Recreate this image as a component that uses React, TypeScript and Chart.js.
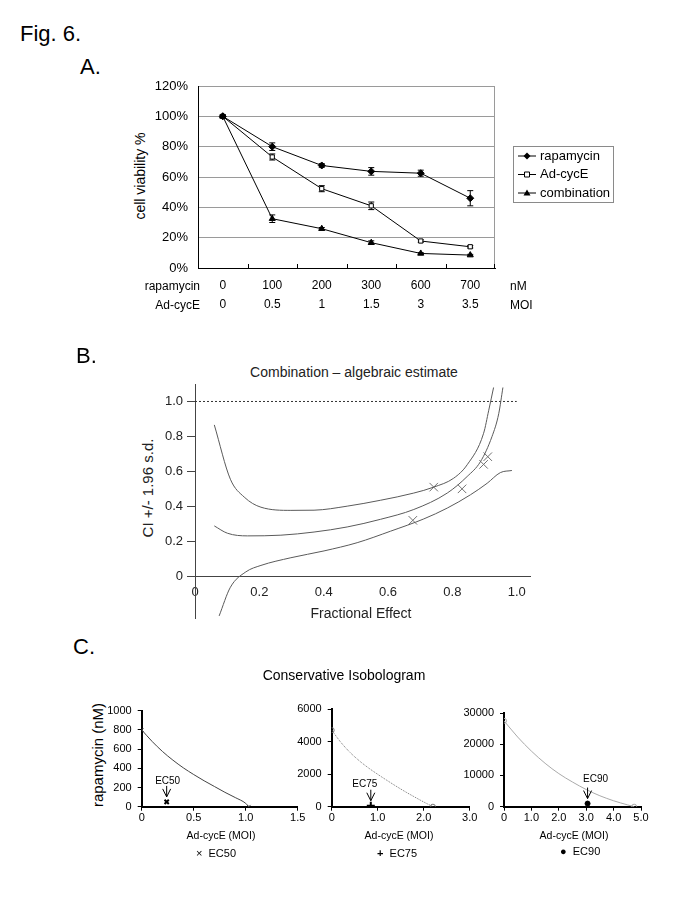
import React, { useEffect, useRef } from "react";
import { Chart, registerables } from "chart.js";
Chart.register(...registerables);

const FONT = "'Liberation Sans', Arial, Helvetica, sans-serif";

// ---------- Panel A : cell viability ----------
const rapamycinDose = ["0", "100", "200", "300", "600", "700"];
const adCycEDose = ["0", "0.5", "1", "1.5", "3", "3.5"];
const rapamycinViability = [100, 80, 67.6, 63.7, 62.5, 46];
const rapamycinError = [1, 2.5, 1.2, 2.5, 2, 5];
const adCycEViability = [100, 73.2, 52.3, 41, 17.8, 14];
const adCycEError = [0.8, 2, 2, 2.5, 0.8, 0.8];
const combinationViability = [100, 32.5, 25.9, 16.7, 9.6, 8.5];
const combinationError = [0.8, 2.5, 0.8, 1.2, 0.5, 0.5];
const legendNamesA = ["rapamycin", "Ad-cycE", "combination"];

// ---------- Panel B : CI vs fractional effect ----------
const upperFa = [0.06, 0.11, 0.153, 0.205, 0.298, 0.37, 0.473, 0.577, 0.68, 0.742, 0.804, 0.846, 0.897, 0.913, 0.928];
const upperCi = [0.866, 0.555, 0.453, 0.395, 0.377, 0.378, 0.401, 0.435, 0.476, 0.51, 0.561, 0.638, 0.818, 0.95, 1.08];
const middleFa = [0.06, 0.101, 0.163, 0.267, 0.37, 0.473, 0.577, 0.68, 0.784, 0.846, 0.887, 0.923, 0.944, 0.957];
const middleCi = [0.288, 0.246, 0.231, 0.235, 0.253, 0.282, 0.326, 0.382, 0.476, 0.571, 0.655, 0.799, 0.93, 1.08];
const lowerFa = [0.075, 0.11, 0.158, 0.205, 0.298, 0.401, 0.504, 0.608, 0.711, 0.784, 0.856, 0.908, 0.949, 0.985];
const lowerCi = [-0.227, -0.063, 0.025, 0.062, 0.106, 0.145, 0.192, 0.258, 0.328, 0.39, 0.466, 0.532, 0.593, 0.605];
const pointFa = [0.677, 0.742, 0.83, 0.897, 0.91];
const pointCi = [0.32, 0.51, 0.5, 0.64, 0.684];
const ciTicks = [0, 0.2, 0.4, 0.6, 0.8, 1.0];
const faTicks = [0, 0.2, 0.4, 0.6, 0.8, 1.0];

// ---------- Panel C : isobolograms ----------
const iso50Moi = [0, 0.1, 0.2, 0.3, 0.4, 0.5, 0.6, 0.7, 0.8, 0.9, 1.0, 1.03];
const iso50Rapa = [800, 680, 575, 485, 405, 335, 270, 210, 150, 95, 35, 0];
const iso75Moi = [0, 0.2, 0.4, 0.6, 0.8, 1.0, 1.2, 1.4, 1.6, 1.8, 2.0, 2.2];
const iso75Rapa = [4700, 3950, 3330, 2820, 2380, 1990, 1620, 1260, 920, 600, 290, 0];
const iso90Moi = [0, 0.5, 1, 1.5, 2, 2.5, 3, 3.5, 4, 4.5, 4.75];
const iso90Rapa = [27500, 22300, 17800, 13900, 10600, 7900, 5500, 3500, 1900, 600, 0];
const ec50 = { moi: 0.24, rapa: 50 };
const ec75 = { moi: 0.85, rapa: 60 };
const ec90 = { moi: 3.05, rapa: 1000 };

const zip = (xs: number[], ys: number[]) => xs.map((x, i) => ({ x, y: ys[i] }));

// ---------------- plugins ----------------
const errorBarPlugin = {
  id: "errorBars",
  beforeDatasetsDraw(chart: any) {
    const { ctx } = chart;
    const ys = chart.scales.y;
    chart.data.datasets.forEach((ds: any, di: number) => {
      if (!ds.errors) return;
      const meta = chart.getDatasetMeta(di);
      meta.data.forEach((pt: any, i: number) => {
        const v = ds.data[i];
        const e = ds.errors[i];
        const t = ys.getPixelForValue(v + e);
        const b = ys.getPixelForValue(v - e);
        ctx.save();
        ctx.strokeStyle = "#000";
        ctx.lineWidth = 1;
        ctx.beginPath();
        ctx.moveTo(pt.x, t);
        ctx.lineTo(pt.x, b);
        ctx.moveTo(pt.x - 3, t);
        ctx.lineTo(pt.x + 3, t);
        ctx.moveTo(pt.x - 3, b);
        ctx.lineTo(pt.x + 3, b);
        ctx.stroke();
        ctx.restore();
      });
    });
  },
};

const frameAPlugin = {
  id: "frameA",
  beforeDatasetsDraw(chart: any) {
    const { ctx, chartArea: a } = chart;
    const xs = chart.scales.x;
    ctx.save();
    ctx.strokeStyle = "#9a9a9a";
    ctx.lineWidth = 1;
    ctx.beginPath();
    ctx.moveTo(a.right - 0.5, a.top);
    ctx.lineTo(a.right - 0.5, a.bottom);
    ctx.stroke();
    ctx.strokeStyle = "#000";
    ctx.beginPath();
    const n = chart.data.labels.length;
    for (let i = 0; i < n; i++) {
      const x =
        i < n - 1
          ? Math.round((xs.getPixelForValue(i) + xs.getPixelForValue(i + 1)) / 2) + 0.5
          : a.right - 0.5;
      ctx.moveTo(x, a.bottom);
      ctx.lineTo(x, a.bottom - 4);
    }
    ctx.stroke();
    ctx.restore();
  },
};

function drawMarker(ctx: any, kind: string, x: number, y: number) {
  ctx.beginPath();
  if (kind === "diamond") {
    ctx.moveTo(x, y - 3.5);
    ctx.lineTo(x + 3.5, y);
    ctx.lineTo(x, y + 3.5);
    ctx.lineTo(x - 3.5, y);
    ctx.closePath();
    ctx.fillStyle = "#000";
    ctx.fill();
  } else if (kind === "square") {
    ctx.rect(x - 2.5, y - 2.5, 5, 5);
    ctx.fillStyle = "#fff";
    ctx.fill();
    ctx.stroke();
  } else {
    ctx.moveTo(x, y - 3.5);
    ctx.lineTo(x + 3.5, y + 2.5);
    ctx.lineTo(x - 3.5, y + 2.5);
    ctx.closePath();
    ctx.fillStyle = "#000";
    ctx.fill();
  }
}

const legendAPlugin = {
  id: "legendA",
  afterDraw(chart: any) {
    const { ctx, chartArea: a } = chart;
    const left = a.right + 18;
    const top = a.top + 60;
    const w = 100;
    const h = 56;
    ctx.save();
    ctx.strokeStyle = "#8a8a8a";
    ctx.lineWidth = 1;
    ctx.strokeRect(left + 0.5, top + 0.5, w, h);
    const kinds = ["diamond", "square", "triangle"];
    chart.data.datasets.forEach((ds: any, i: number) => {
      const y = top + 10 + i * 18.5;
      ctx.strokeStyle = "#000";
      ctx.lineWidth = 1;
      ctx.beginPath();
      ctx.moveTo(left + 5, y);
      ctx.lineTo(left + 23, y);
      ctx.stroke();
      drawMarker(ctx, kinds[i], left + 14, y);
      ctx.fillStyle = "#000";
      ctx.font = `13px ${FONT}`;
      ctx.textAlign = "left";
      ctx.textBaseline = "middle";
      ctx.fillText(ds.label, left + 27, y);
    });
    ctx.restore();
  },
};

const ecArrowPlugin = {
  id: "ecArrow",
  afterDatasetsDraw(chart: any) {
    const { ctx } = chart;
    chart.data.datasets.forEach((ds: any, di: number) => {
      if (!ds.ecLabel) return;
      const pt = chart.getDatasetMeta(di).data[0];
      const tip = pt.y - 5;
      const tail = pt.y - 16;
      ctx.save();
      ctx.strokeStyle = "#000";
      ctx.lineWidth = 1;
      ctx.beginPath();
      ctx.moveTo(pt.x, tail);
      ctx.lineTo(pt.x, tip);
      ctx.moveTo(pt.x - 4, tip - 8);
      ctx.lineTo(pt.x, tip);
      ctx.lineTo(pt.x + 4, tip - 8);
      ctx.stroke();
      ctx.fillStyle = "#000";
      ctx.font = `10px ${FONT}`;
      ctx.textAlign = "center";
      ctx.textBaseline = "middle";
      ctx.fillText(ds.ecLabel, pt.x + ds.ecDx, pt.y - ds.ecDy);
      ctx.restore();
    });
  },
};

// ---------------- chart configs ----------------
function makePanelA(): any {
  return {
    type: "line",
    data: {
      labels: rapamycinDose.map((r, i) => [r, adCycEDose[i]]),
      datasets: [
        {
          label: legendNamesA[0],
          data: rapamycinViability,
          errors: rapamycinError,
          borderColor: "#000",
          borderWidth: 1,
          pointStyle: "rectRot",
          pointRadius: 3.5,
          pointBackgroundColor: "#000",
          pointBorderColor: "#000",
        },
        {
          label: legendNamesA[1],
          data: adCycEViability,
          errors: adCycEError,
          borderColor: "#000",
          borderWidth: 1,
          pointStyle: "rect",
          pointRadius: 3,
          pointBackgroundColor: "#fff",
          pointBorderColor: "#000",
          pointBorderWidth: 1,
        },
        {
          label: legendNamesA[2],
          data: combinationViability,
          errors: combinationError,
          borderColor: "#000",
          borderWidth: 1,
          pointStyle: "triangle",
          pointRadius: 3.5,
          pointBackgroundColor: "#000",
          pointBorderColor: "#000",
        },
      ],
    },
    options: {
      animation: false,
      responsive: false,
      devicePixelRatio: 1,
      layout: { padding: { left: 0, right: 190, top: 26, bottom: 0 } },
      plugins: { legend: { display: false }, tooltip: { enabled: false } },
      scales: {
        x: {
          offset: true,
          grid: { display: false, drawTicks: false },
          border: { color: "#000" },
          ticks: {
            color: "#000",
            padding: 8,
            maxRotation: 0,
            autoSkip: false,
            font: { family: FONT, size: 12, lineHeight: 1.6 },
          },
          afterFit: (s: any) => {
            s.height = 62;
          },
        },
        y: {
          min: 0,
          max: 120,
          ticks: {
            stepSize: 20,
            color: "#000",
            padding: 10,
            font: { family: FONT, size: 13 },
            callback: (v: any) => `${v}%`,
          },
          grid: { color: "#9a9a9a", drawTicks: false },
          border: { color: "#000" },
          afterFit: (s: any) => {
            s.width = 198;
          },
        },
      },
    },
    plugins: [errorBarPlugin, frameAPlugin, legendAPlugin],
  };
}

function makePanelB(): any {
  const curve = (xs: number[], ys: number[]) => ({
    data: zip(xs, ys),
    showLine: true,
    borderColor: "#5a5a5a",
    borderWidth: 1,
    pointRadius: 0,
    cubicInterpolationMode: "monotone",
  });
  return {
    type: "scatter",
    data: {
      datasets: [
        curve(upperFa, upperCi),
        curve(middleFa, middleCi),
        curve(lowerFa, lowerCi),
        {
          data: zip([0, 1.0], [1.0, 1.0]),
          showLine: true,
          borderColor: "#333",
          borderWidth: 1,
          borderDash: [2, 2],
          pointRadius: 0,
        },
        {
          data: zip(pointFa, pointCi),
          showLine: false,
          pointStyle: "crossRot",
          pointRadius: 6,
          pointBorderColor: "#707070",
          pointBorderWidth: 1,
        },
      ],
    },
    options: {
      animation: false,
      responsive: false,
      devicePixelRatio: 1,
      layout: { padding: { left: 0, right: 155, top: 14, bottom: 10.6 } },
      plugins: { legend: { display: false }, tooltip: { enabled: false } },
      scales: {
        x: {
          type: "linear",
          min: 0,
          max: 1.0412,
          position: { y: 0 },
          afterBuildTicks: (s: any) => {
            s.ticks = faTicks.map((v) => ({ value: v }));
          },
          ticks: {
            color: "#222",
            padding: 8,
            font: { family: FONT, size: 13 },
            callback: (v: any) => (v === 0 ? "0" : Number(v).toFixed(1)),
          },
          grid: { display: false, drawTicks: false },
          border: { color: "#444" },
        },
        y: {
          position: "left",
          min: -0.24,
          max: 1.1,
          afterBuildTicks: (s: any) => {
            s.ticks = ciTicks.map((v) => ({ value: v }));
          },
          afterFit: (s: any) => {
            s.width = 195;
          },
          ticks: {
            color: "#222",
            padding: 4,
            font: { family: FONT, size: 13 },
            callback: (v: any) => (v === 0 ? "0" : Number(v).toFixed(1)),
          },
          grid: { drawOnChartArea: false, drawTicks: true, tickLength: 8, color: "#444" },
          border: { color: "#444" },
        },
      },
    },
  };
}

function makeIso(p: any): any {
  const n = p.moi.length;
  return {
    type: "scatter",
    data: {
      datasets: [
        {
          data: zip(p.moi, p.rapa),
          showLine: true,
          borderColor: p.lineColor,
          borderWidth: 1,
          borderDash: p.dash,
          pointStyle: p.endStyle,
          pointRadius: (c: any) => (c.dataIndex === 0 || c.dataIndex === n - 1 ? 2.5 : 0),
          pointBorderColor: p.lineColor,
          pointBackgroundColor: "rgba(0,0,0,0)",
          cubicInterpolationMode: "monotone",
        },
        {
          data: [{ x: p.ec.moi, y: p.ec.rapa }],
          pointStyle: p.ecStyle,
          pointRadius: p.ecRadius,
          pointBorderWidth: p.ecBorder,
          pointBorderColor: "#000",
          pointBackgroundColor: "#000",
          ecLabel: p.ecLabel,
          ecDx: p.ecDx,
          ecDy: p.ecDy,
        },
      ],
    },
    options: {
      animation: false,
      responsive: false,
      devicePixelRatio: 1,
      layout: { padding: { left: 0, right: p.padRight, top: p.padTop, bottom: 0 } },
      plugins: { legend: { display: false }, tooltip: { enabled: false } },
      scales: {
        x: {
          type: "linear",
          min: 0,
          max: p.xMax,
          ticks: {
            stepSize: p.xStep,
            color: "#000",
            padding: 1,
            maxRotation: 0,
            font: { family: FONT, size: 11 },
            callback: (v: any) => (v === 0 ? "0" : Number(v).toFixed(1)),
          },
          grid: { drawOnChartArea: false, tickLength: 4, color: "#000" },
          border: { color: "#000", width: 2 },
          afterFit: (s: any) => {
            s.height = 23.3;
          },
        },
        y: {
          min: 0,
          max: p.yMax,
          ticks: {
            stepSize: p.yStep,
            color: "#000",
            padding: 6,
            font: { family: FONT, size: 11 },
            callback: (v: any) => String(v),
          },
          grid: { drawOnChartArea: false, tickLength: 4, color: "#000" },
          border: { color: "#000", width: 2 },
          afterFit: (s: any) => {
            s.width = p.yWidth;
          },
        },
      },
    },
    plugins: [ecArrowPlugin],
  };
}

// ---------------- components ----------------
function ChartBox(props: { left: number; top: number; width: number; height: number; make: () => any }) {
  const ref = useRef<HTMLCanvasElement | null>(null);
  useEffect(() => {
    const chart = new Chart(ref.current as HTMLCanvasElement, props.make());
    return () => chart.destroy();
  }, []);
  return (
    <canvas
      ref={ref}
      width={props.width}
      height={props.height}
      style={{ position: "absolute", left: props.left, top: props.top, width: props.width, height: props.height }}
    />
  );
}

function T(props: {
  x: number;
  y: number;
  size: number;
  align?: "left" | "center" | "right";
  rotate?: boolean;
  color?: string;
  children: any;
}) {
  const align = props.align || "center";
  const tx = align === "left" ? "0" : align === "right" ? "-100%" : "-50%";
  const transform = props.rotate ? "translate(-50%,-50%) rotate(-90deg)" : `translate(${tx},-50%)`;
  return (
    <div
      style={{
        position: "absolute",
        left: props.x,
        top: props.y,
        fontSize: props.size,
        lineHeight: 1,
        whiteSpace: "nowrap",
        transform,
        color: props.color || "#000",
        fontFamily: FONT,
      }}
    >
      {props.children}
    </div>
  );
}

export default function App() {
  return (
    <div
      style={{
        position: "absolute",
        left: 0,
        top: 0,
        width: 685,
        height: 913,
        background: "#fff",
        overflow: "hidden",
        fontFamily: FONT,
      }}
    >
      <T x={20} y={34} size={22} align="left">Fig. 6.</T>
      <T x={80} y={67} size={22} align="left">A.</T>
      <T x={140} y={176} size={14} rotate>cell viability %</T>
      <ChartBox left={0} top={60} width={685} height={270} make={makePanelA} />
      <T x={200} y={286} size={12} align="right">rapamycin</T>
      <T x={200} y={305} size={12} align="right">Ad-cycE</T>
      <T x={510} y={286} size={12} align="left">nM</T>
      <T x={510} y={305} size={12} align="left">MOI</T>

      <T x={76} y={356} size={22} align="left">B.</T>
      <T x={354} y={372} size={14} color="#222">Combination – algebraic estimate</T>
      <T x={147} y={488} size={15} rotate color="#222">CI +/- 1.96 s.d.</T>
      <ChartBox left={0} top={370} width={685} height={260} make={makePanelB} />
      <T x={361} y={613} size={14} color="#222">Fractional Effect</T>

      <T x={73} y={647} size={22} align="left">C.</T>
      <T x={344} y={675} size={14}>Conservative Isobologram</T>
      <T x={97} y={755} size={15} rotate>rapamycin (nM)</T>
      <ChartBox
        left={60}
        top={690}
        width={260}
        height={140}
        make={() =>
          makeIso({
            moi: iso50Moi, rapa: iso50Rapa, lineColor: "#444", dash: [], endStyle: "crossRot",
            ec: ec50, ecStyle: "crossRot", ecRadius: 3, ecBorder: 2, ecLabel: "EC50", ecDx: 1, ecDy: 21,
            xMax: 1.5, xStep: 0.5, yMax: 1000, yStep: 200, yWidth: 81.7, padRight: 22.3, padTop: 20.7,
          })
        }
      />
      <ChartBox
        left={290}
        top={690}
        width={200}
        height={140}
        make={() =>
          makeIso({
            moi: iso75Moi, rapa: iso75Rapa, lineColor: "#777", dash: [1, 1], endStyle: "circle",
            ec: ec75, ecStyle: "cross", ecRadius: 4, ecBorder: 2, ecLabel: "EC75", ecDx: -6, ecDy: 21,
            xMax: 3.0, xStep: 1.0, yMax: 6000, yStep: 2000, yWidth: 41.7, padRight: 20.3, padTop: 19,
          })
        }
      />
      <ChartBox
        left={455}
        top={690}
        width={210}
        height={140}
        make={() =>
          makeIso({
            moi: iso90Moi, rapa: iso90Rapa, lineColor: "#aaa", dash: [], endStyle: "circle",
            ec: ec90, ecStyle: "circle", ecRadius: 2.5, ecBorder: 1, ecLabel: "EC90", ecDx: 8, ecDy: 24,
            xMax: 5.0, xStep: 1.0, yMax: 30000, yStep: 10000, yWidth: 49, padRight: 24, padTop: 23,
          })
        }
      />
      <T x={221} y={835} size={10.5}>Ad-cycE (MOI)</T>
      <T x={399} y={835} size={10.5}>Ad-cycE (MOI)</T>
      <T x={574} y={835} size={10.5}>Ad-cycE (MOI)</T>
      <T x={196} y={853} size={11} align="left">×&nbsp; EC50</T>
      <T x={377} y={853} size={11} align="left"><b>+</b>&nbsp; EC75</T>
      <T x={560} y={851} size={11} align="left">●&nbsp; EC90</T>
    </div>
  );
}
